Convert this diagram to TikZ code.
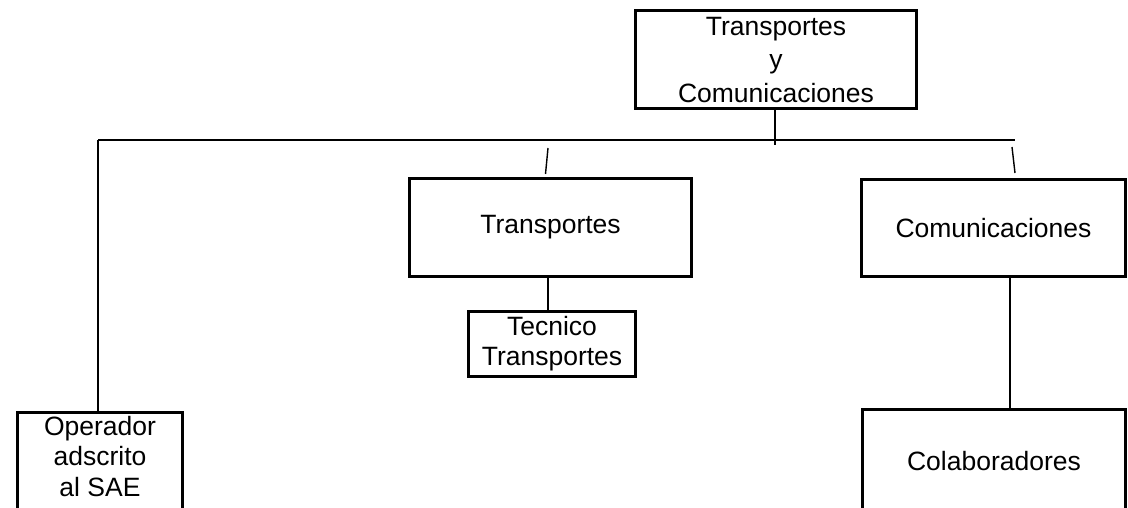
\documentclass[tikz,border=0pt]{standalone}
\usepackage{fontspec}
\setmainfont{Liberation Sans}
\usetikzlibrary{positioning}

\begin{document}
\begin{tikzpicture}[x=1pt,y=-1pt,
  every node/.style={font=\fontsize{26.5}{33.5}\selectfont,align=center},
  unitbox/.style={draw,line width=3pt,inner sep=0pt},
  link/.style={line width=1.4pt}]
  \useasboundingbox (0,0) rectangle (1128,508);
  \clip (0,0) rectangle (1128,508);
  % head of the chart
  \node[unitbox,minimum width=281,minimum height=98] (tyc) at (776,60)
    {Transportes\\y\\Comunicaciones};
  % second level
  \node[unitbox,minimum width=282,minimum height=98] (trans) at (550.5,227.5) {Transportes};
  \node[unitbox,minimum width=264,minimum height=97] (comu) at (993.5,228) {Comunicaciones};
  \node[unitbox,minimum width=167,minimum height=65,
    font=\fontsize{26.5}{30}\selectfont] (tec) at (552,344) {Tecnico\\Transportes};
  % bottom row, cut by the page edge
  \node[unitbox,minimum width=165,minimum height=110] (oper) at (100,467) {};
  \node[inner sep=0pt,below=5.5pt of oper.north,
    font=\fontsize{26.5}{30.5}\selectfont] (operlbl) {Operador\\adscrito\\al SAE};
  \node[unitbox,minimum width=263,minimum height=104] (colab) at (994,461.5) {Colaboradores};
  % connectors
  \coordinate (tyctail) at (775,145);
  \coordinate (hl) at (98,140);
  \coordinate (hr) at (1015,140);
  \coordinate (tA) at (548,148);
  \coordinate (tB) at (545.5,174);
  \coordinate (cA) at (1012,147);
  \coordinate (cB) at (1015,173);
  \coordinate (tx) at (548,0);
  \coordinate (cx) at (1010,0);
  \draw[link] (tyctail |- tyc.south) -- (tyctail);
  \draw[link] (hl) -- (hr);
  \draw[link] (hl) -- (hl |- oper.north);
  \draw[link] (tA) -- (tB);
  \draw[link] (cA) -- (cB);
  \draw[link] (tx |- trans.south) -- (tx |- tec.north);
  \draw[link] (cx |- comu.south) -- (cx |- colab.north);
\end{tikzpicture}
\end{document}
